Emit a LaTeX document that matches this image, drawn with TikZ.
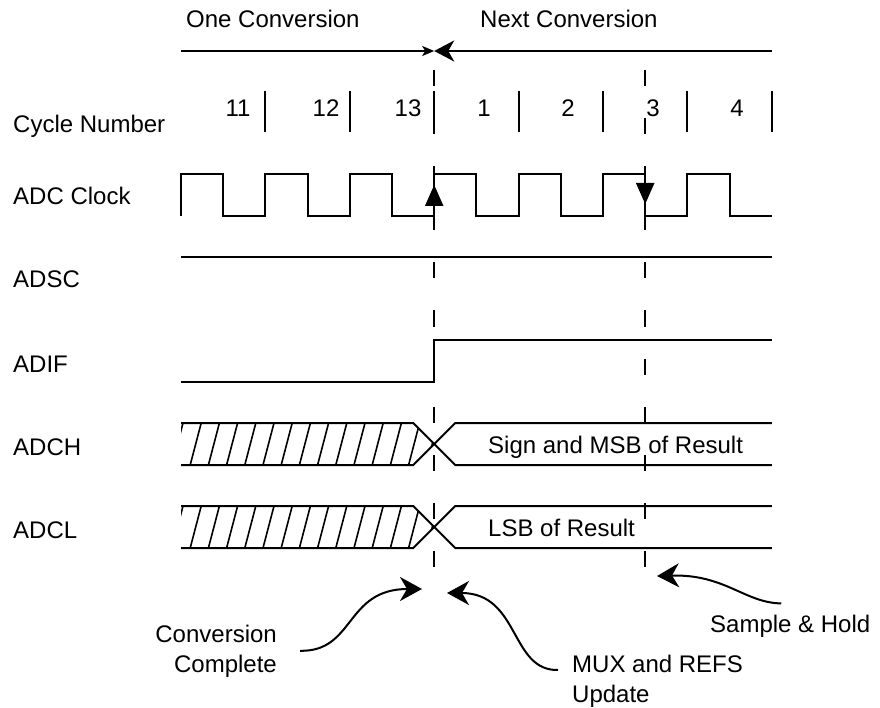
\documentclass[tikz,border=0pt]{standalone}
\usepackage{fontspec}
\setmainfont{Liberation Sans}
\usetikzlibrary{arrows.meta}
\begin{document}
\begin{tikzpicture}[x=1pt,y=-1pt,
  wave/.style={line width=2pt, line join=miter},
  txt/.style={font=\fontsize{24}{30}\selectfont, inner sep=0pt},
  lbl/.style={txt, anchor=base west},
  num/.style={txt, anchor=base},
  guide/.style={line width=2pt, dash pattern=on 16pt off 32.1pt},
  tickmark/.style={line width=2pt},
  hatchline/.style={line width=1.6pt},
  callout/.style={line width=2pt, -{Stealth[length=22pt,width=24pt,inset=7pt]}},
]
\useasboundingbox (0,0) rectangle (880,708);

% signal names
\node[lbl] (lcyc)  at (13,133) {Cycle Number};
\node[lbl] (lclk)  at (13,205) {ADC Clock};
\node[lbl] (ladsc) at (13,288) {ADSC};
\node[lbl] (ladif) at (13,372) {ADIF};
\node[lbl] (ladch) at (13,455) {ADCH};
\node[lbl] (ladcl) at (13,538) {ADCL};

% conversion span
\node[lbl] (one)  at (186,28) {One Conversion};
\node[lbl] (next) at (480,28) {Next Conversion};
\coordinate (spanL) at (181,51);
\coordinate (spanM) at (434.2,51);
\coordinate (spanR) at (771.8,51);
\draw[line width=2pt, -{Stealth[length=12pt,width=10pt,inset=3pt]}] (spanL) -- (spanM);
\draw[line width=2pt, -{Stealth[length=20pt,width=21pt,inset=6pt]}] (spanR) -- (spanM);

% guide lines
\draw[guide] (434.2,70) -- (434.2,567);
\draw[guide] (645.2,70) -- (645.2,567);

% cycle numbers and ticks
\foreach \x in {265.4,349.8,434.2,518.6,603,687.4,771.8}
  \draw[tickmark] (\x,91) -- (\x,132);
\node[num] (c11) at (238,117) {11};
\node[num] (c12) at (326,117) {12};
\node[num] (c13) at (408,117) {13};
\node[num] (c1)  at (484,117) {1};
\node[num] (c2)  at (568,117) {2};
\node[num] (c3)  at (653,117) {3};
\node[num] (c4)  at (737,117) {4};

% ADC clock
\draw[wave] (181,216) -- (181,174) -- (223.2,174) -- (223.2,216) -- (265.4,216) -- (265.4,174)
  -- (307.6,174) -- (307.6,216) -- (349.8,216) -- (349.8,174) -- (392,174) -- (392,216)
  -- (434.2,216) -- (434.2,174) -- (476.4,174) -- (476.4,216) -- (518.6,216) -- (518.6,174)
  -- (560.8,174) -- (560.8,216) -- (603,216) -- (603,174) -- (645.2,174) -- (645.2,216)
  -- (687.4,216) -- (687.4,174) -- (729.6,174) -- (729.6,216) -- (771.8,216);
\fill (434.2,185) -- (443.5,206) -- (424.9,206) -- cycle;
\fill (645.2,204) -- (654.5,183) -- (635.9,183) -- cycle;

% ADSC
\draw[wave] (181,257) -- (771.8,257);

% ADIF
\draw[wave] (181,382) -- (434.2,382) -- (434.2,340) -- (771.8,340);

% ADCH
\begin{scope}
  \clip (181,423) -- (413.2,423) -- (434.2,444) -- (413.2,465) -- (181,465) -- cycle;
  \foreach \i in {0,...,14}
    \draw[hatchline] ({172+18.2*\i},465) -- ({183+18.2*\i},423);
\end{scope}
\draw[wave] (181,423) -- (413.2,423) -- (455.2,465) -- (771.8,465);
\draw[wave] (181,465) -- (413.2,465) -- (455.2,423) -- (771.8,423);
\node[lbl] (msb) at (488,453) {Sign and MSB of Result};

% ADCL
\begin{scope}
  \clip (181,506) -- (413.2,506) -- (434.2,527) -- (413.2,548) -- (181,548) -- cycle;
  \foreach \i in {0,...,14}
    \draw[hatchline] ({172+18.2*\i},548) -- ({183+18.2*\i},506);
\end{scope}
\draw[wave] (181,506) -- (413.2,506) -- (455.2,548) -- (771.8,548);
\draw[wave] (181,548) -- (413.2,548) -- (455.2,506) -- (771.8,506);
\node[lbl] (lsb) at (488,536) {LSB of Result};

% callouts
\node[txt, anchor=base east, align=right] (cc) at (277,672) {Conversion\\Complete};
\node[txt, anchor=base west, align=left] (mux) at (572,702) {MUX and REFS\\Update};
\node[lbl] (sh) at (710,632) {Sample \& Hold};
\coordinate (ccTip) at (422,589);
\coordinate (muxTip) at (447,593);
\coordinate (shTip) at (657,576);
\draw[callout] ([xshift=23pt]cc.east) .. controls (355,652) and (345,589) .. (ccTip);
\draw[callout] ([xshift=-14pt,yshift=32pt]mux.base west) .. controls (510,671) and (520,593) .. (muxTip);
\draw[callout] ([xshift=-9pt,yshift=11pt]sh.north) .. controls (745,603) and (725,574) .. (shTip);
\end{tikzpicture}
\end{document}
